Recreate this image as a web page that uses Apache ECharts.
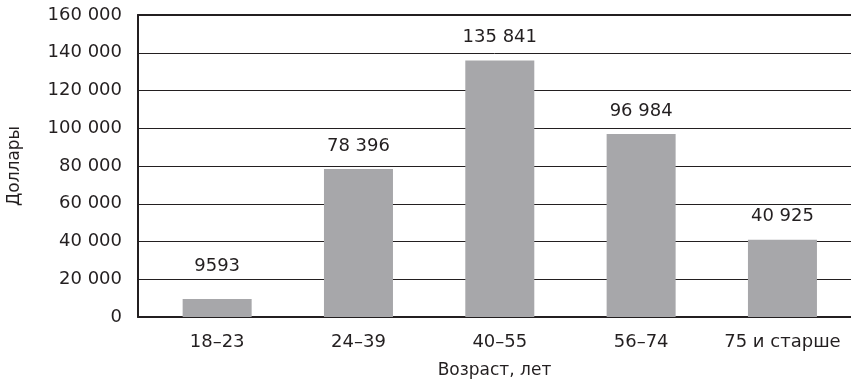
<!DOCTYPE html>
<html>
<head>
<meta charset="utf-8">
<script src="https://cdn.jsdelivr.net/npm/echarts@6/dist/echarts.min.js"></script>
<style>
html, body { margin: 0; padding: 0; background: #fff; }
#chart { width: 851px; height: 382px; }
</style>
</head>
<body>
<div id="chart"></div>
<script>
var categories = ['18–23', '24–39', '40–55', '56–74', '75 и старше'];
var values = [9593, 78396, 135841, 96984, 40925];
var valueLabels = ['9593', '78 396', '135 841', '96 984', '40 925'];
var yTicks = [0, 20000, 40000, 60000, 80000, 100000, 120000, 140000, 160000];

var ink = '#231f20';
var font = 'DejaVu Sans';

function spaced(v) {
	return String(v).replace(/\B(?=(\d{3})+(?!\d))/g, ' ');
}

var barData = [];
for (var i = 0; i < values.length; i++) {
	barData.push({
		value: [i, values[i]],
		label: { distance: i == 0 ? 24 : 14 }
	});
}

var chart = echarts.init(document.getElementById('chart'));

var option = {
	animation: false,
	grid: { left: 138, right: 0, top: 15, bottom: 65, containLabel: false, outerBoundsMode: 'none' },
	xAxis: [{
		type: 'value',
		min: -0.56,
		max: 4.485,
		name: 'Возраст, лет',
		nameLocation: 'middle',
		nameGap: 45,
		nameTextStyle: { color: ink, fontFamily: font, fontSize: 17 },
		axisLine: { show: true, onZero: false, lineStyle: { color: ink, width: 2 } },
		axisTick: { show: false },
		splitLine: { show: false },
		axisLabel: {
			customValues: [0, 1, 2, 3, 4],
			formatter: function (v) { return categories[Math.round(v)]; },
			color: ink,
			fontFamily: font,
			fontSize: 18,
			margin: 16
		}
	}, {
		type: 'value',
		position: 'top',
		min: -0.56,
		max: 4.485,
		axisLine: { show: true, onZero: false, lineStyle: { color: ink, width: 2 } },
		axisTick: { show: false },
		axisLabel: { show: false },
		splitLine: { show: false }
	}],
	yAxis: {
		type: 'value',
		min: yTicks[0],
		max: yTicks[yTicks.length - 1],
		interval: 20000,
		name: 'Доллары',
		nameLocation: 'middle',
		nameGap: 115,
		nameTextStyle: { color: ink, fontFamily: font, fontSize: 17 },
		axisLine: { show: true, onZero: false, lineStyle: { color: ink, width: 2 } },
		axisTick: { show: false },
		axisLabel: {
			color: ink,
			fontFamily: font,
			fontSize: 18,
			margin: 16,
			formatter: function (v) { return spaced(v); }
		},
		splitLine: { show: true, lineStyle: { color: ink, width: 1 } }
	},
	series: [{
		type: 'bar',
		xAxisIndex: 0,
		barWidth: 69,
		itemStyle: { color: '#a7a7aa' },
		label: {
			show: true,
			position: 'top',
			color: ink,
			fontFamily: font,
			fontSize: 18,
			formatter: function (p) { return valueLabels[p.dataIndex]; }
		},
		data: barData
	}]
};

chart.setOption(option);
</script>
</body>
</html>
